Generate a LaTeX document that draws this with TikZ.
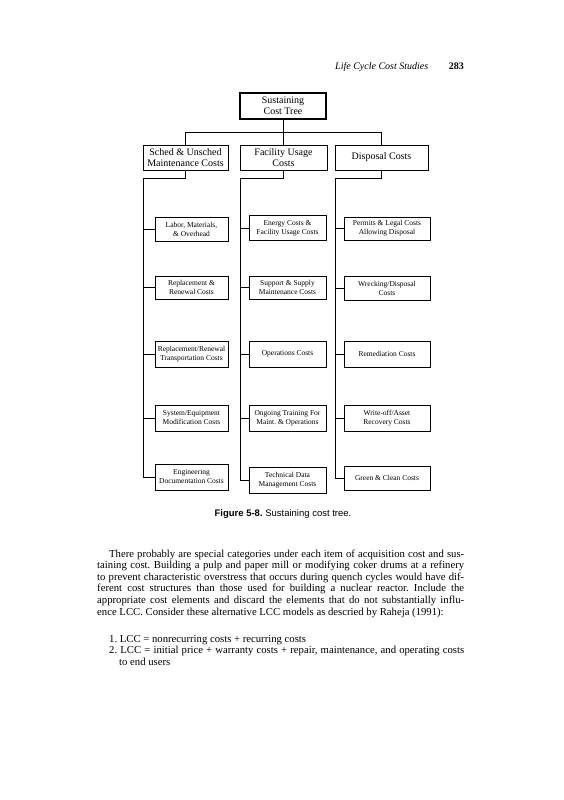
\documentclass[tikz,border=0pt]{standalone}
\usepackage{fontspec}
\setmainfont{Liberation Serif}
\newfontfamily\capfont{Liberation Sans}
\frenchspacing
\begin{document}
\begin{tikzpicture}[x=1pt,y=-1pt,
  topbox/.style={draw, line width=2pt, inner sep=0pt, align=center, font=\fontsize{10}{11}\selectfont},
  lvl/.style={draw, line width=0.8pt, inner sep=0pt, align=center, font=\fontsize{10}{11}\selectfont},
  leaf/.style={draw, line width=0.75pt, inner sep=0pt, align=center, font=\fontsize{7.5}{9}\selectfont},
  conn/.style={line width=0.75pt},
  txt/.style={inner sep=0pt, anchor=base west, font=\fontsize{10.7}{11.6}\selectfont\frenchspacing}]
\useasboundingbox (0,0) rectangle (563,800);
\fill[white] (0,0) rectangle (563,800);

% running head
\node[inner sep=0pt, anchor=base west, font=\fontsize{10}{12}\selectfont\itshape] (head) at (335,70) {Life Cycle Cost Studies};
\node[inner sep=0pt, anchor=base east, font=\fontsize{10}{12}\selectfont\bfseries] (page) at (464,70) {283};

% top
\node[topbox, minimum width=86, minimum height=26] (T) at (283,106) {Sustaining\\Cost Tree};
\node[lvl, minimum width=85, minimum height=25] (A) at (185.5,157.5) {Sched \& Unsched\\Maintenance Costs};
\node[lvl, minimum width=87, minimum height=25] (B) at (283.5,157.5) {Facility Usage\\Costs};
\node[lvl, minimum width=93, minimum height=25] (C) at (381.5,157.5) {Disposal Costs};

\coordinate (bus) at (283,132);
\draw[conn] (T.south) -- (bus);
\draw[conn] (A.north) -- (A.north |- bus) -- (C.north |- bus) -- (C.north);
\draw[conn] (B.north) -- (B.north |- bus);

% left column
\node[leaf, minimum width=73, minimum height=24] (L1) at (191.5,229) {Labor, Materials,\\\& Overhead};
\node[leaf, minimum width=73, minimum height=23] (L2) at (191.5,287.5) {Replacement \&\\Renewal Costs};
\node[leaf, minimum width=73, minimum height=26] (L3) at (191.5,354) {Replacement/Renewal\\Transportation Costs};
\node[leaf, minimum width=73, minimum height=26] (L4) at (191.5,418) {System/Equipment\\Modification Costs};
\node[leaf, minimum width=73, minimum height=26] (L5) at (191.5,477) {Engineering\\Documentation Costs};

% middle column
\node[leaf, minimum width=77, minimum height=25] (M1) at (287.5,228) {Energy Costs \&\\Facility Usage Costs};
\node[leaf, minimum width=77, minimum height=23] (M2) at (287.5,287.5) {Support \& Supply\\Maintenance Costs};
\node[leaf, minimum width=77, minimum height=26] (M3) at (287.5,354) {Operations Costs};
\node[leaf, minimum width=77, minimum height=26] (M4) at (287.5,418) {Ongoing Training For\\Maint. \& Operations};
\node[leaf, minimum width=77, minimum height=26] (M5) at (287.5,480) {Technical Data\\Management Costs};

% right column
\node[leaf, minimum width=86, minimum height=23] (R1) at (387,228.5) {Permits \& Legal Costs\\Allowing Disposal};
\node[leaf, minimum width=86, minimum height=24] (R2) at (387,288) {Wrecking/Disposal\\Costs};
\node[leaf, minimum width=86, minimum height=26] (R3) at (387,354) {Remediation Costs};
\node[leaf, minimum width=86, minimum height=26] (R4) at (387,418) {Write-off/Asset\\Recovery Costs};
\node[leaf, minimum width=86, minimum height=24] (R5) at (387,478) {Green \& Clean Costs};

% column trunks
\coordinate (ja) at (143,178);
\coordinate (jb) at (240,178);
\coordinate (jc) at (335,178);
\draw[conn] (A.south) -- (A.south |- ja) -- (ja) -- (ja |- L5.west) -- (L5.west);
\draw[conn] (B.south) -- (B.south |- jb) -- (jb) -- (jb |- M5.west) -- (M5.west);
\draw[conn] (C.south) -- (C.south |- jc) -- (jc) -- (jc |- R5.west) -- (R5.west);
\foreach \n in {L1,L2,L3,L4} \draw[conn] (ja |- \n.west) -- (\n.west);
\foreach \n in {M1,M2,M3,M4} \draw[conn] (jb |- \n.west) -- (\n.west);
\foreach \n in {R1,R2,R3,R4} \draw[conn] (jc |- \n.west) -- (\n.west);

% caption
\node[inner sep=0pt, anchor=base, font=\capfont\fontsize{9.5}{11}\selectfont] (cap) at (283,516) {\textbf{Figure 5-8.} Sustaining cost tree.};

% body text
\node[txt] (p1) at (109,557) {\makebox[355pt][s]{There probably are special categories under each item of acquisition cost and sus-}};
\node[txt] (p2) at (97,568.6) {\makebox[367pt][s]{taining cost. Building a pulp and paper mill or modifying coker drums at a refinery}};
\node[txt] (p3) at (97,580.2) {\makebox[367pt][s]{to prevent characteristic overstress that occurs during quench cycles would have dif-}};
\node[txt] (p4) at (97,591.8) {\makebox[367pt][s]{ferent cost structures than those used for building a nuclear reactor. Include the}};
\node[txt] (p5) at (97,603.4) {\makebox[367pt][s]{appropriate cost elements and discard the elements that do not substantially influ-}};
\node[txt] (p6) at (97,615) {ence LCC. Consider these alternative LCC models as descried by Raheja (1991):};

\node[txt] (i1) at (109,642) {1. LCC = nonrecurring costs + recurring costs};
\node[txt] (i2) at (109,653.6) {\makebox[355pt][s]{2.~LCC = initial price + warranty costs + repair, maintenance, and operating costs}};
\node[txt] (i3) at (119,665.2) {to end users};
\end{tikzpicture}
\end{document}
